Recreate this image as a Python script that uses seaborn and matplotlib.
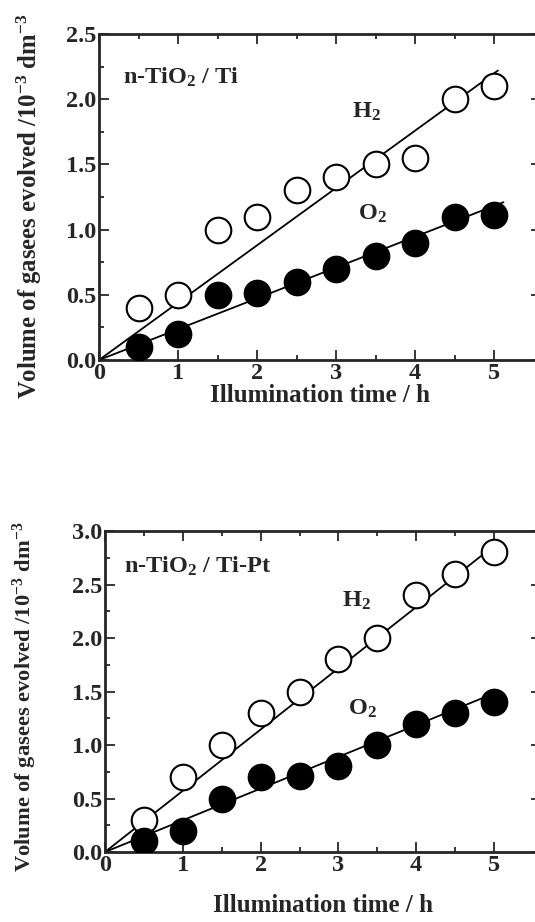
import numpy as np
import pandas as pd
import seaborn as sns
from matplotlib import pyplot as plt
from matplotlib.ticker import MultipleLocator, FixedLocator

czas = [0.5, 1.0, 1.5, 2.0, 2.5, 3.0, 3.5, 4.0, 4.5, 5.0]

h2_ti = [0.40, 0.50, 1.00, 1.10, 1.30, 1.40, 1.50, 1.55, 2.00, 2.10]
o2_ti = [0.10, 0.20, 0.50, 0.51, 0.60, 0.70, 0.80, 0.90, 1.10, 1.11]

h2_tipt = [0.30, 0.70, 1.00, 1.30, 1.50, 1.80, 2.00, 2.40, 2.60, 2.80]
o2_tipt = [0.10, 0.20, 0.50, 0.70, 0.71, 0.80, 1.00, 1.20, 1.30, 1.40]

# proste dopasowania (poczatek i koniec odcinka)
fit_ti_x = [0.0, 5.05, 0.0, 5.12]
fit_ti_y = [0.0, 2.22, 0.0, 1.21]
fit_tipt_x = [0.0, 4.98, 0.0, 5.06]
fit_tipt_y = [0.0, 2.85, 0.0, 1.50]

sns.set_style('ticks')
plt.rcParams['font.family'] = ['Liberation Serif', 'DejaVu Serif']
plt.rcParams['font.weight'] = 'bold'
plt.rcParams['mathtext.fontset'] = 'custom'
plt.rcParams['mathtext.rm'] = 'Liberation Serif:bold'
plt.rcParams['mathtext.bf'] = 'Liberation Serif:bold'
plt.rcParams['mathtext.it'] = 'Liberation Serif:bold'

W, H = 535, 922
fig = plt.figure(figsize=(W / 100, H / 100), dpi=100)

# os wychodzi za prawa krawedz obrazka (tak jak w oryginale - uciete)
ax1 = fig.add_axes([99 / W, 1 - 360 / H, 5.6 * 79 / W, 326 / H])
ax2 = fig.add_axes([105 / W, 1 - 852 / H, 5.6 * 77.8 / W, 321 / H])


def rysuj(ax, h2, o2, fx, fy, ymax, nazwa, pos_nazwa, pos_h2, pos_o2, ylab_size, ylab_pos):
    df = pd.DataFrame({'t': czas, 'H2': h2, 'O2': o2})
    for i in range(2):
        seg = pd.DataFrame({'x': fx[2 * i:2 * i + 2], 'y': fy[2 * i:2 * i + 2]})
        sns.lineplot(data=seg, x='x', y='y', ax=ax, color='black', lw=1.3, zorder=2)
    sns.scatterplot(data=df, x='t', y='H2', ax=ax, s=340, facecolor='white',
                    edgecolor='black', linewidth=1.5, zorder=3)
    sns.scatterplot(data=df, x='t', y='O2', ax=ax, s=340, color='black',
                    edgecolor='black', linewidth=1.5, zorder=3)

    ax.set_xlim(0, 5.6)
    ax.set_ylim(0, ymax)
    ax.xaxis.set_major_locator(FixedLocator([0, 1, 2, 3, 4, 5]))
    ax.xaxis.set_minor_locator(FixedLocator([0.5, 1.5, 2.5, 3.5, 4.5]))
    ax.yaxis.set_major_locator(MultipleLocator(0.5))
    ax.yaxis.set_minor_locator(MultipleLocator(0.25))
    ax.tick_params(which='both', direction='in', top=True, right=True, width=1.3)
    ax.tick_params(which='major', length=7, labelsize=17.5, pad=2)
    ax.tick_params(which='minor', length=3.5)
    ax.xaxis.set_major_formatter(plt.FuncFormatter(lambda v, p: f'{v:.0f}'))
    ax.yaxis.set_major_formatter(plt.FuncFormatter(lambda v, p: f'{v:.1f}'))
    for s in ax.spines.values():
        s.set_linewidth(2)
        s.set_visible(True)

    ax.set_xlabel('Illumination time / h', fontsize=18, fontweight='bold', labelpad=0)
    ax.set_ylabel(r'Volume of gasees evolved /10$^{-3}$ dm$^{-3}$', fontsize=ylab_size,
                  fontweight='bold')
    ax.yaxis.set_label_coords(ylab_pos[0], ylab_pos[1])

    ax.text(pos_nazwa[0], pos_nazwa[1], nazwa, fontsize=17.5, fontweight='bold', va='center')
    ax.text(pos_h2[0], pos_h2[1], r'$\mathrm{H_2}$', fontsize=17.5, va='center')
    ax.text(pos_o2[0], pos_o2[1], r'$\mathrm{O_2}$', fontsize=17.5, va='center')


rysuj(ax1, h2_ti, o2_ti, fit_ti_x, fit_ti_y, 2.5, r'n-TiO$_2$ / Ti',
      (0.31, 2.17), (3.2, 1.9), (3.28, 1.12), 17.8, (-0.124, 0.47))
rysuj(ax2, h2_tipt, o2_tipt, fit_tipt_x, fit_tipt_y, 3.0, r'n-TiO$_2$ / Ti-Pt',
      (0.24, 2.67), (3.05, 2.35), (3.12, 1.34), 16.2, (-0.151, 0.485))
ax2.xaxis.labelpad = 13

fig.savefig('out.png', dpi=100)
